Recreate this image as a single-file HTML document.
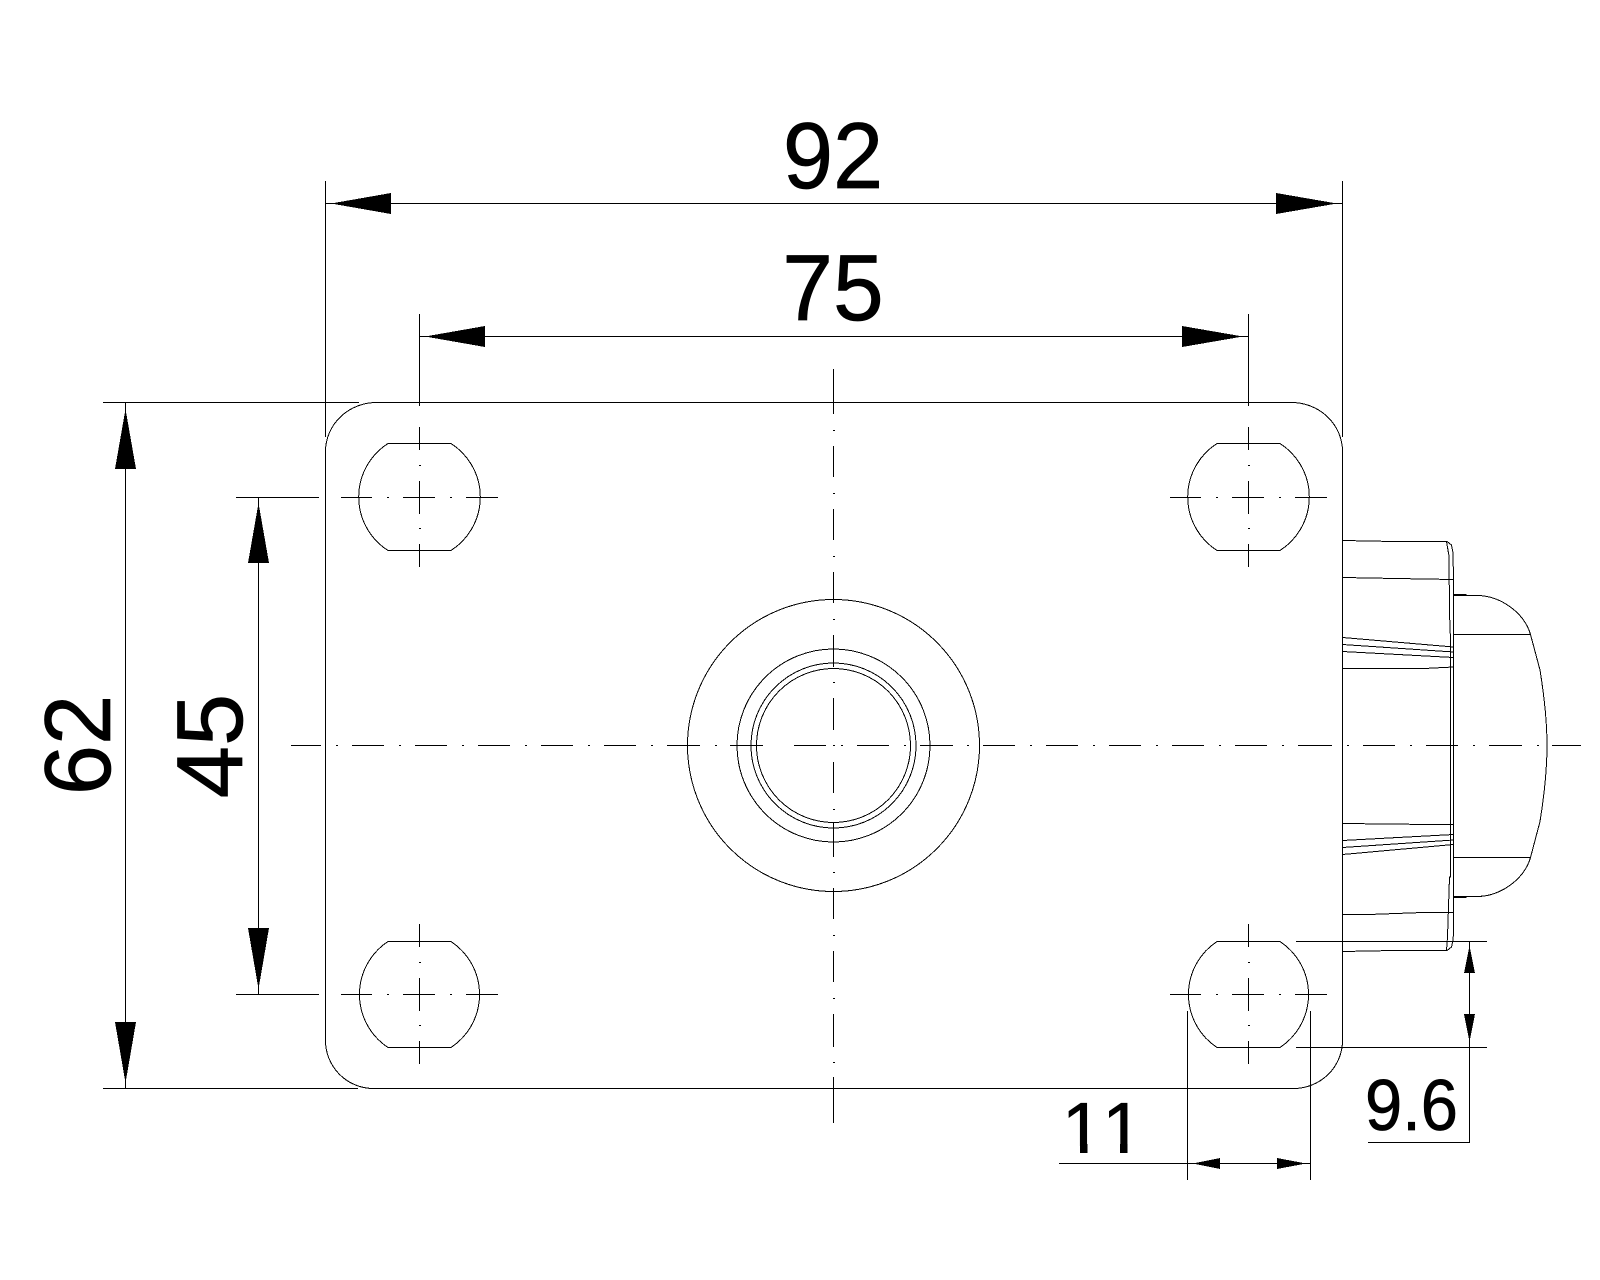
<!DOCTYPE html>
<html><head><meta charset="utf-8"><title>Plate drawing</title>
<style>html,body{margin:0;padding:0;background:#fff}svg{display:block}text{font-family:"Liberation Sans",Arial,sans-serif;fill:#000;stroke:#000;stroke-width:.7px}</style></head>
<body>
<svg xmlns="http://www.w3.org/2000/svg" width="1600" height="1280" viewBox="0 0 1600 1280">
<rect width="1600" height="1280" fill="#fff"/>
<g fill="none" stroke="#000" stroke-width="1" shape-rendering="crispEdges">
<!-- plate -->
<path d="M377 402.5H1291A51 49 0 0 1 1342.5 451.5V1040A49 48 0 0 1 1293 1088.5H373A48 48 0 0 1 325.5 1040V451.5A51 49 0 0 1 377 402.5Z"/>
<!-- extension lines -->
<path d="M103 402.5H359M103 1088.5H358M325.5 181V437M1342.5 181V437M419.5 314V406M1248.5 314V406"/>
<path d="M236 497.5H319M236 994.5H319M1187.5 1011V1180M1310.5 1011V1180M1296 941.5H1487M1296 1047.5H1487"/>
<!-- dimension lines -->
<path d="M326 203.5H1342M420 336.5H1248M125.5 403V1088M258.5 498V994M1059 1163.5H1310M1469.5 942V1142.5H1368"/>
<!-- holes -->
<g transform="translate(419 497)"><path d="M-31 -53.5H32A63.5 63.5 0 0 1 32 53.5H-31A63.5 63.5 0 0 1 -31 -53.5Z"/><path d="M-78 .5H-47M-32 .5H-30M-16 .5H16M31 .5H33M47 .5H79M.5 -70V-47M0 -31.5H2M.5 -16V17M0 31.5H2M.5 47V70"/></g>
<g transform="translate(1248 497)"><path d="M-31 -53.5H32A63.5 63.5 0 0 1 32 53.5H-31A63.5 63.5 0 0 1 -31 -53.5Z"/><path d="M-78 .5H-47M-32 .5H-30M-16 .5H16M31 .5H33M47 .5H79M.5 -70V-47M0 -31.5H2M.5 -16V17M0 31.5H2M.5 47V70"/></g>
<g transform="translate(419 994)"><path d="M-31 -52.5H32A63.5 63.5 0 0 1 32 53.5H-31A63.5 63.5 0 0 1 -31 -52.5Z"/><path d="M-78 .5H-47M-32 .5H-30M-16 .5H16M31 .5H33M47 .5H79M.5 -70V-47M0 -31.5H2M.5 -16V17M0 31.5H2M.5 47V70"/></g>
<g transform="translate(1248 994)"><path d="M-31 -52.5H32A63.5 63.5 0 0 1 32 53.5H-31A63.5 63.5 0 0 1 -31 -52.5Z"/><path d="M-78 .5H-47M-32 .5H-30M-16 .5H16M31 .5H33M47 .5H79M.5 -70V-47M0 -31.5H2M.5 -16V17M0 31.5H2M.5 47V70"/></g>
<!-- centre circles -->
<circle cx="833.5" cy="745.5" r="146"/>
<circle cx="833.5" cy="745.5" r="96.5"/>
<circle cx="833.5" cy="745.5" r="82.5"/>
<circle cx="833.5" cy="745.5" r="77"/>
<!-- vertical centre line -->
<path d="M833.5 369V414M833 430.5H835M833.5 446V477M833 493.5H835M833.5 509V540M833 556.5H835M833.5 572V603M833 619.5H835M833.5 635V667M833 682.5H835M833.5 698V730M833 745.5H835M833.5 762V793M833 809.5H835M833.5 823V857M833 872.5H835M833.5 888V919M833 935.5H835M833.5 951V982M833 998.5H835M833.5 1014V1047M833 1062.5H835M833.5 1077V1123"/>
<!-- horizontal centre line -->
<path d="M291 745.5H321M336 745.5H338M352 745.5H384M399 745.5H401M415 745.5H447M462 745.5H464M478 745.5H510M525 745.5H527M541 745.5H573M588 745.5H590M604 745.5H636M651 745.5H653M667 745.5H700M715 745.5H717M730 745.5H763M794 745.5H826M841 745.5H843M857 745.5H889M904 745.5H906M920 745.5H953M967 745.5H969M983 745.5H1015M1030 745.5H1032M1046 745.5H1078M1093 745.5H1095M1109 745.5H1141M1156 745.5H1158M1172 745.5H1204M1219 745.5H1221M1235 745.5H1267M1282 745.5H1284M1298 745.5H1332M1347 745.5H1349M1363 745.5H1395M1410 745.5H1412M1426 745.5H1458M1473 745.5H1475M1489 745.5H1522M1537 745.5H1539M1552 745.5H1581"/>
<!-- body at right -->
<path d="M1342.5 540.5L1394 541.5H1447M1342.5 951.5L1394 950.5H1447"/>
<path d="M1447 541.5L1451.5 545L1453 553L1453.5 579V933L1453 940L1451.5 947L1447 950.5"/>
<path d="M1446.5 541.5L1449 556L1449.5 613L1450.5 640V877L1449.5 877L1447.5 937L1446.5 950.5"/>
<path d="M1342.5 577.5L1396 578.5L1453.5 579.5"/>
<path d="M1342.5 637.5L1453.5 647M1342.5 644.5L1453.5 652M1342.5 651.5L1453.5 657.5M1342.5 668.5H1424L1453.5 667"/>
<path d="M1342.5 823.5L1431 824.5H1453.5M1342.5 840.5L1453.5 834.5M1342.5 847.5L1453.5 840M1342.5 854.5L1453.5 844.5M1342.5 914.5H1369L1423 912.5H1453.5"/>
<!-- knob -->
<path d="M1454 595.5H1478C1500 596 1524 612 1530.5 634.5L1540 670C1544 695 1547 720 1547 745C1547 770 1544 797 1540 821.5L1530.5 857.5C1524 880 1500 896 1478 896.5H1454"/>
<path d="M1454 634.5H1530.5M1454 857.5H1530.5"/>
<path d="M1454 594.5H1466.5M1454 897.5H1466.5"/>
</g>
<!-- arrowheads -->
<g fill="#000" shape-rendering="crispEdges">
<polygon points="331,203.5 391,193 391,214"/>
<polygon points="1337,203.5 1276,193 1276,214"/>
<polygon points="425,336.5 485,326 485,347"/>
<polygon points="1243,336.5 1182,326 1182,347"/>
<polygon points="125.5,409 115,469 136,469"/>
<polygon points="125.5,1083 115,1022 136,1022"/>
<polygon points="258.5,503 248,563 269,563"/>
<polygon points="258.5,989 248,928 269,928"/>
<polygon points="1193,1163.5 1220,1158 1220,1169"/>
<polygon points="1306,1163.5 1277,1158 1277,1169"/>
<polygon points="1469.5,946 1464,973 1475,973"/>
<polygon points="1469.5,1042 1464,1014 1475,1014"/>
</g>
<!-- labels -->
<text transform="translate(833 188) scale(.96 1)" font-size="94" text-anchor="middle">92</text>
<text transform="translate(833 320) scale(.97 1)" font-size="94" text-anchor="middle">75</text>
<text transform="translate(110 745) rotate(-90) scale(.96 1)" font-size="94" text-anchor="middle">62</text>
<text transform="translate(242 746) rotate(-90)" font-size="94" text-anchor="middle">45</text>
<text x="1062" y="1153" font-size="72.7" style="font-kerning:none">11</text>
<!-- the reference typeface's "1" has no foot serif: mask the feet, redraw stem ends -->
<rect x="1064" y="1146" width="82" height="9.5" fill="#fff"/>
<rect x="1080" y="1144" width="7.5" height="9" fill="#000" shape-rendering="crispEdges"/>
<rect x="1120" y="1144" width="7.5" height="9" fill="#000" shape-rendering="crispEdges"/>
<text transform="translate(1365 1130) scale(.92 1)" font-size="72.7">9.6</text>
</svg>
</body></html>
